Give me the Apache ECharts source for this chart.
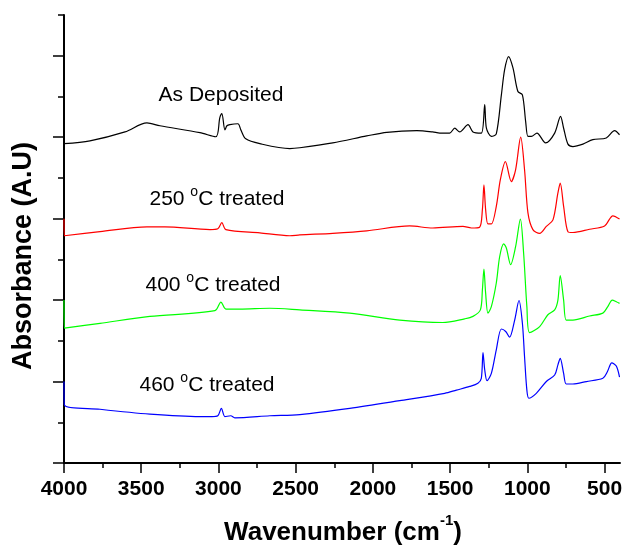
<!DOCTYPE html>
<html lang="en">
<head>
    <meta charset="UTF-8">
    <title>FTIR</title>
    <style>
        html, body { margin: 0; padding: 0; background: #fff; }
    </style>
</head>
<body>
<div id="main" style="width: 623px;height:546px;"></div>
<script src="https://cdn.jsdelivr.net/npm/echarts@6/dist/echarts.min.js"></script>
<script>
    // wavenumber (cm-1) / absorbance (offset, A.U)
    var asDepWn = [4000, 3832, 3605, 3463, 3379, 3120, 3017, 2991, 2978, 2958, 2945, 2926, 2874, 2855, 2823, 2732, 2538, 2473, 2260, 2040, 1910, 1716, 1613, 1567, 1503, 1470, 1438, 1384, 1352, 1298, 1276, 1265, 1233, 1201, 1168, 1147, 1121, 1093, 1061, 1032, 1011, 996, 974, 938, 882, 823, 785, 765, 737, 705, 640, 576, 489, 435, 403];
    var asDepAbs = [7.84, 7.91, 8.13, 8.35, 8.28, 8.11, 8.01, 8.48, 8.58, 8.18, 8.28, 8.31, 8.33, 8.18, 7.96, 7.84, 7.72, 7.74, 7.86, 8.03, 8.12, 8.16, 8.13, 8.10, 8.10, 8.22, 8.13, 8.31, 8.13, 8.10, 8.80, 8.22, 8.02, 8.08, 9.04, 9.66, 9.98, 9.70, 9.12, 9.04, 8.39, 8.02, 8.02, 8.10, 7.86, 8.10, 8.51, 8.22, 7.83, 7.77, 7.83, 7.94, 7.98, 8.16, 8.06];

    var t250Wn = [4000, 3998, 3767, 3463, 3347, 3055, 3004, 2978, 2952, 2732, 2538, 2473, 2260, 2040, 1762, 1613, 1417, 1362, 1309, 1291, 1281, 1270, 1255, 1233, 1201, 1175, 1142, 1104, 1076, 1043, 1018, 996, 964, 920, 877, 834, 802, 787, 765, 737, 705, 597, 500, 446, 403];
    var t250Abs = [6.00, 5.58, 5.68, 5.80, 5.80, 5.73, 5.75, 5.90, 5.73, 5.65, 5.58, 5.60, 5.64, 5.70, 5.82, 5.77, 5.81, 5.77, 5.79, 6.22, 6.83, 6.22, 5.87, 5.87, 6.30, 6.95, 7.40, 6.91, 7.20, 8.00, 7.20, 6.14, 5.73, 5.64, 5.81, 5.97, 6.63, 6.87, 6.30, 5.68, 5.66, 5.74, 5.82, 6.07, 5.99];

    var t400Wn = [4000, 3998, 3767, 3444, 3023, 2984, 2952, 2861, 2667, 2473, 2150, 1826, 1548, 1406, 1352, 1304, 1291, 1281, 1270, 1255, 1233, 1201, 1179, 1153, 1136, 1108, 1076, 1045, 1024, 1003, 985, 920, 867, 823, 802, 787, 765, 748, 705, 597, 511, 479, 450, 424, 403];
    var t400Abs = [4.00, 3.31, 3.43, 3.60, 3.74, 3.95, 3.78, 3.78, 3.80, 3.76, 3.68, 3.51, 3.45, 3.54, 3.60, 3.76, 4.25, 4.76, 4.17, 3.68, 3.84, 4.42, 5.07, 5.38, 5.28, 4.87, 5.31, 5.99, 5.15, 3.84, 3.20, 3.35, 3.64, 3.76, 4.00, 4.60, 4.00, 3.51, 3.51, 3.61, 3.68, 3.84, 4.00, 3.96, 3.92];

    var t460Wn = [4000, 3998, 3767, 3444, 3120, 3042, 3004, 2981, 2958, 2920, 2894, 2667, 2473, 2150, 1826, 1535, 1459, 1373, 1320, 1298, 1287, 1276, 1261, 1233, 1201, 1168, 1140, 1115, 1082, 1054, 1032, 1018, 1003, 990, 942, 877, 823, 802, 787, 765, 748, 705, 618, 511, 482, 453, 424, 403];
    var t460Abs = [2.00, 1.43, 1.32, 1.20, 1.14, 1.14, 1.16, 1.34, 1.14, 1.16, 1.11, 1.16, 1.19, 1.34, 1.53, 1.71, 1.79, 1.88, 1.96, 2.08, 2.71, 2.29, 2.02, 2.20, 2.78, 3.29, 3.23, 3.09, 3.51, 3.99, 3.43, 2.61, 1.79, 1.59, 1.71, 2.00, 2.16, 2.41, 2.57, 2.20, 1.94, 1.94, 2.00, 2.08, 2.24, 2.46, 2.38, 2.11];

    var majorWn = [500, 1000, 1500, 2000, 2500, 3000, 3500, 4000];
    var minorWn = [750, 1250, 1750, 2250, 2750, 3250, 3750];
    var majorAbs = [0, 2, 4, 6, 8, 10];

    var seriesNames = ['As Deposited', '250 °C treated', '400 °C treated', '460 °C treated'];
    var colors = ['#000000', '#ff0000', '#00ff00', '#0000ff'];

    function pairs(xs, ys) {
        var out = [];
        for (var i = 0; i < xs.length; i++) {
            out.push([xs[i], ys[i]]);
        }
        return out;
    }

    var allData = [
        pairs(asDepWn, asDepAbs),
        pairs(t250Wn, t250Abs),
        pairs(t400Wn, t400Abs),
        pairs(t460Wn, t460Abs)
    ];

    var font = 'Liberation Sans, Arial, sans-serif';

    var myChart = echarts.init(document.getElementById('main'));

    var series = [];
    for (var k = 0; k < allData.length; k++) {
        series.push({
            name: seriesNames[k],
            type: 'line',
            data: allData[k],
            smooth: 0.3,
            symbol: 'none',
            animation: false,
            lineStyle: {color: colors[k], width: 1.2},
            itemStyle: {color: colors[k]}
        });
    }

    // curve labels, superscript "o" kept as text
    var supRich = {
        n: {fontSize: 21, fontFamily: font, color: '#000', lineHeight: 24, verticalAlign: 'bottom'},
        s: {fontSize: 14, fontFamily: font, color: '#000', lineHeight: 14, verticalAlign: 'bottom', padding: [0, 0, 11, 0]}
    };
    function curveLabel(x, y, txt) {
        return {
            type: 'text', x: x, y: y,
            style: {
                text: txt, fontSize: 21, fontFamily: font, fill: '#000',
                align: 'center', verticalAlign: 'middle', rich: supRich
            }
        };
    }

    var option = {
        animation: false,
        backgroundColor: '#fff',
        grid: {left: 64, right: 3, top: 15, bottom: 83, outerBoundsMode: 'none'},
        xAxis: [
            {
                type: 'value', min: 400, max: 4000, inverse: true,
                axisLine: {show: true, lineStyle: {color: '#000', width: 2}},
                axisTick: {show: true, length: 10, lineStyle: {color: '#000', width: 1.5}, customValues: majorWn},
                axisLabel: {
                    customValues: majorWn, margin: 16, color: '#000',
                    fontSize: 21, fontWeight: 'bold', fontFamily: font,
                    formatter: function (v) { return String(v); }
                },
                splitLine: {show: false}
            },
            {
                type: 'value', min: 400, max: 4000, inverse: true, position: 'bottom',
                axisLine: {show: false},
                axisTick: {show: true, length: 5, lineStyle: {color: '#000', width: 1.5}, customValues: minorWn},
                axisLabel: {show: false},
                splitLine: {show: false}
            }
        ],
        yAxis: [
            {
                type: 'value', min: 0, max: 11, interval: 1,
                axisLine: {show: true, lineStyle: {color: '#000', width: 2}},
                axisTick: {show: true, length: 6, lineStyle: {color: '#000', width: 1.5}},
                axisLabel: {show: false},
                splitLine: {show: false}
            },
            {
                type: 'value', min: 0, max: 11, position: 'left',
                axisLine: {show: false},
                axisTick: {show: true, length: 11, lineStyle: {color: '#000', width: 1.5}, customValues: majorAbs},
                axisLabel: {show: false},
                splitLine: {show: false}
            }
        ],
        graphic: [
            curveLabel(221, 94, '{n|As Deposited}'),
            curveLabel(217, 198, '{n|250 }{s|o}{n|C treated}'),
            curveLabel(213, 284, '{n|400 }{s|o}{n|C treated}'),
            curveLabel(207, 384, '{n|460 }{s|o}{n|C treated}'),
            {
                type: 'text', x: 343, y: 531,
                style: {
                    text: '{b|Wavenumber (cm}{u|-1}{b|)}', fill: '#000',
                    align: 'center', verticalAlign: 'middle',
                    rich: {
                        b: {fontSize: 26, fontWeight: 'bold', fontFamily: font, color: '#000', lineHeight: 30, verticalAlign: 'bottom'},
                        u: {fontSize: 15, fontWeight: 'bold', fontFamily: font, color: '#000', lineHeight: 15, verticalAlign: 'bottom', padding: [0, 0, 18, 0]}
                    }
                }
            },
            {
                type: 'text', x: 24, y: 256, rotation: Math.PI / 2,
                style: {
                    text: 'Absorbance (A.U)', fill: '#000',
                    fontSize: 27, fontWeight: 'bold', fontFamily: font,
                    align: 'center', verticalAlign: 'middle'
                }
            }
        ],
        series: series
    };

    myChart.setOption(option);
</script>
</body>
</html>
